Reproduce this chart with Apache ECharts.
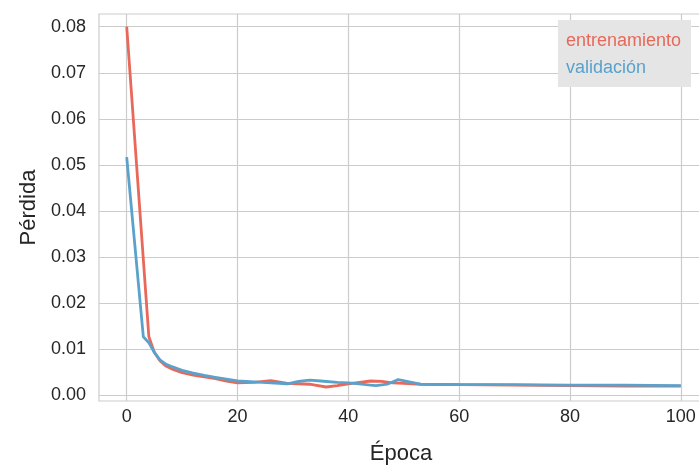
<!DOCTYPE html>
<html>
<head>
<meta charset="utf-8">
<script src="https://cdn.jsdelivr.net/npm/echarts@6/dist/echarts.min.js"></script>
<style>html,body{margin:0;padding:0;background:#fff}#c{width:699px;height:466px}</style>
</head>
<body>
<div id="c"></div>
<script>
const seriesNames = ['entrenamiento', 'validación'];
const xTicks = [0, 20, 40, 60, 80, 100];
const yTicks = [0, 0.01, 0.02, 0.03, 0.04, 0.05, 0.06, 0.07, 0.08];

const trainEpochs = [0, 4, 5, 6, 7, 8, 10, 12, 14, 16, 18, 20, 23, 26, 29, 31, 33, 34, 36, 38, 40, 42, 44, 46, 48, 50, 53, 60, 70, 80, 90, 100];
const trainLoss  = [0.0800, 0.0127, 0.0093, 0.0075, 0.0064, 0.0058, 0.0049, 0.0044, 0.0040, 0.0036, 0.0031, 0.0027, 0.0028, 0.0032, 0.0026, 0.0025, 0.0024, 0.0022, 0.0018, 0.0021, 0.0025, 0.0028, 0.0031, 0.0030, 0.0027, 0.0026, 0.0024, 0.0023, 0.0022, 0.0021, 0.0020, 0.0020];

const valEpochs = [0, 3, 4, 5, 6, 7, 8, 10, 12, 14, 16, 18, 20, 23, 26, 29, 31, 33, 35, 38, 40, 42, 44, 45, 47, 49, 51, 53, 60, 70, 80, 90, 100];
const valLoss   = [0.0517, 0.0127, 0.0114, 0.0093, 0.0077, 0.0068, 0.0063, 0.0054, 0.0048, 0.0043, 0.0039, 0.0035, 0.0031, 0.0029, 0.0027, 0.0025, 0.0030, 0.0033, 0.0031, 0.0028, 0.0027, 0.0025, 0.0022, 0.0021, 0.0024, 0.0034, 0.0029, 0.0024, 0.0023, 0.0023, 0.0022, 0.0022, 0.0021];

const colors = ['#e8695a', '#5aa2cb'];
const pair = (xs, ys) => xs.map((x, i) => [x, ys[i]]);

const chart = echarts.init(document.getElementById('c'), null, {renderer: 'canvas'});
const font = 'Liberation Sans, Arial, sans-serif';
chart.setOption({
  animation: false,
  backgroundColor: '#ffffff',
  grid: {left: 99, top: 14, right: -4, bottom: 65, outerBoundsMode: 'none', containLabel: false, show: true, borderColor: '#cccccc', borderWidth: 1.2, backgroundColor: 'transparent'},
  xAxis: {
    type: 'value', min: -5, max: 104,
    name: 'Época', nameLocation: 'middle', nameGap: 42,
    nameTextStyle: {fontFamily: font, fontSize: 22, color: '#262626'},
    axisLine: {show: false},
    axisTick: {show: false, customValues: xTicks},
    axisLabel: {customValues: xTicks, margin: 7, fontFamily: font, fontSize: 18, color: '#262626'},
    splitLine: {show: true, lineStyle: {color: '#cccccc', width: 1.2}}
  },
  yAxis: {
    type: 'value', min: -0.00124, max: 0.08276,
    name: 'Pérdida', nameLocation: 'middle', nameGap: 59, nameRotate: 90,
    nameTextStyle: {fontFamily: font, fontSize: 22, color: '#262626'},
    axisLine: {show: false},
    axisTick: {show: false, customValues: yTicks},
    axisLabel: {customValues: yTicks, margin: 13, fontFamily: font, fontSize: 18, color: '#262626', formatter: v => v.toFixed(2)},
    splitLine: {show: true, lineStyle: {color: '#cccccc', width: 1.2}}
  },
  legend: {
    orient: 'vertical', right: 8, top: 20,
    backgroundColor: '#e5e5e5', borderWidth: 0, borderRadius: 0,
    padding: [12, 10, 10, 3], itemGap: 9, itemWidth: 0, itemHeight: 0, icon: 'none',
    textStyle: {fontFamily: font, fontSize: 18},
    data: [
      {name: seriesNames[0], textStyle: {color: colors[0]}},
      {name: seriesNames[1], textStyle: {color: colors[1]}}
    ]
  },
  series: [
    {name: seriesNames[0], type: 'line', data: pair(trainEpochs, trainLoss), showSymbol: false, symbol: 'none', color: colors[0], lineStyle: {width: 2.8, color: colors[0]}, smooth: false, z: 2},
    {name: seriesNames[1], type: 'line', data: pair(valEpochs, valLoss), showSymbol: false, symbol: 'none', color: colors[1], lineStyle: {width: 2.8, color: colors[1]}, smooth: false, z: 3}
  ]
});
</script>
</body>
</html>
